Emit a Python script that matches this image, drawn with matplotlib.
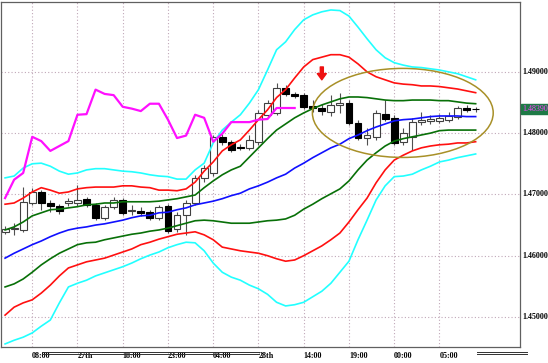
import matplotlib
matplotlib.use("Agg")
import matplotlib.pyplot as plt
from matplotlib.patches import Ellipse, Rectangle
from matplotlib.lines import Line2D

# hourly candles, oldest first
opens = [1.4639, 1.4644, 1.4642, 1.4686, 1.4704, 1.4686, 1.4681, 1.4686, 1.4686, 1.4693,
         1.4683, 1.4662, 1.4680, 1.4691, 1.4673, 1.4673, 1.4671, 1.4662, 1.4681, 1.4644,
         1.4666, 1.4686, 1.4727, 1.4735, 1.4794, 1.4786, 1.4778, 1.4776, 1.4786, 1.4830,
         1.4833, 1.4874, 1.4864, 1.4862, 1.4844, 1.4841, 1.4835, 1.4846, 1.4849, 1.4817,
         1.4792, 1.4794, 1.4831, 1.4825, 1.4786, 1.4794, 1.4818, 1.4820, 1.4820, 1.4822,
         1.4827, 1.4841, 1.4840]
closes = [1.4644, 1.4645, 1.4688, 1.4704, 1.4686, 1.4681, 1.4673, 1.4689, 1.4691, 1.4683,
          1.4662, 1.4680, 1.4691, 1.4670, 1.4675, 1.4670, 1.4662, 1.4680, 1.4640, 1.4666,
          1.4686, 1.4727, 1.4743, 1.4794, 1.4786, 1.4773, 1.4776, 1.4789, 1.4833, 1.4849,
          1.4874, 1.4864, 1.4861, 1.4843, 1.4841, 1.4836, 1.4846, 1.4849, 1.4817, 1.4792,
          1.4797, 1.4833, 1.4823, 1.4784, 1.4800, 1.4818, 1.4822, 1.4823, 1.4825, 1.4828,
          1.4841, 1.4838, 1.4839]
highs = [1.4649, 1.4653, 1.4712, 1.4711, 1.4707, 1.4691, 1.4684, 1.4694, 1.4716, 1.4696,
         1.4686, 1.4683, 1.4696, 1.4694, 1.4683, 1.4680, 1.4675, 1.4683, 1.4684, 1.4671,
         1.4691, 1.4732, 1.4748, 1.4797, 1.4799, 1.4789, 1.4782, 1.4797, 1.4838, 1.4854,
         1.4882, 1.4879, 1.4867, 1.4866, 1.4854, 1.4848, 1.4862, 1.4866, 1.4854, 1.4822,
         1.4809, 1.4838, 1.4854, 1.4830, 1.4809, 1.4825, 1.4835, 1.4830, 1.4831, 1.4835,
         1.4844, 1.4846, 1.4843]
lows = [1.4635, 1.4634, 1.4639, 1.4683, 1.4675, 1.4671, 1.4668, 1.4681, 1.4681, 1.4680,
        1.4658, 1.4658, 1.4676, 1.4666, 1.4666, 1.4665, 1.4658, 1.4658, 1.4637, 1.4639,
        1.4634, 1.4683, 1.4720, 1.4730, 1.4781, 1.4769, 1.4773, 1.4773, 1.4781, 1.4825,
        1.4830, 1.4861, 1.4858, 1.4840, 1.4835, 1.4830, 1.4828, 1.4833, 1.4813, 1.4789,
        1.4781, 1.4789, 1.4820, 1.4781, 1.4781, 1.4773, 1.4813, 1.4815, 1.4817, 1.4818,
        1.4823, 1.4835, 1.4835]

# bollinger style bands
ma = [1.4596, 1.4604, 1.4611, 1.4618, 1.4624, 1.4631, 1.4637, 1.4642, 1.4645, 1.4647,
      1.4650, 1.4652, 1.4655, 1.4658, 1.4662, 1.4665, 1.4666, 1.4670, 1.4671, 1.4675,
      1.4678, 1.4683, 1.4686, 1.4689, 1.4693, 1.4698, 1.4702, 1.4709, 1.4714, 1.4720,
      1.4727, 1.4733, 1.4743, 1.4751, 1.4760, 1.4768, 1.4776, 1.4782, 1.4791, 1.4797,
      1.4804, 1.4810, 1.4815, 1.4820, 1.4822, 1.4823, 1.4825, 1.4827, 1.4828, 1.4828,
      1.4828, 1.4827, 1.4827]
up1 = [1.4642, 1.4647, 1.4655, 1.4665, 1.4670, 1.4675, 1.4676, 1.4678, 1.4680, 1.4683,
       1.4684, 1.4686, 1.4686, 1.4688, 1.4688, 1.4688, 1.4688, 1.4689, 1.4691, 1.4693,
       1.4696, 1.4699, 1.4711, 1.4722, 1.4732, 1.4740, 1.4746, 1.4761, 1.4776, 1.4791,
       1.4805, 1.4815, 1.4825, 1.4833, 1.4840, 1.4846, 1.4851, 1.4856, 1.4859, 1.4859,
       1.4858, 1.4856, 1.4854, 1.4853, 1.4853, 1.4854, 1.4854, 1.4854, 1.4853, 1.4853,
       1.4851, 1.4849, 1.4848]
dn1 = [1.4549, 1.4554, 1.4562, 1.4573, 1.4585, 1.4595, 1.4604, 1.4611, 1.4618, 1.4621,
       1.4622, 1.4626, 1.4629, 1.4632, 1.4635, 1.4637, 1.4640, 1.4642, 1.4645, 1.4649,
       1.4653, 1.4657, 1.4658, 1.4657, 1.4655, 1.4653, 1.4653, 1.4653, 1.4655, 1.4657,
       1.4658, 1.4660, 1.4666, 1.4676, 1.4684, 1.4693, 1.4701, 1.4709, 1.4722, 1.4740,
       1.4756, 1.4768, 1.4779, 1.4787, 1.4791, 1.4794, 1.4797, 1.4800, 1.4804, 1.4805,
       1.4805, 1.4805, 1.4805]
up2 = [1.4684, 1.4686, 1.4694, 1.4704, 1.4711, 1.4707, 1.4702, 1.4704, 1.4709, 1.4711,
       1.4712, 1.4712, 1.4712, 1.4714, 1.4714, 1.4712, 1.4711, 1.4707, 1.4707, 1.4706,
       1.4709, 1.4720, 1.4738, 1.4753, 1.4771, 1.4781, 1.4789, 1.4805, 1.4822, 1.4838,
       1.4858, 1.4871, 1.4890, 1.4908, 1.4920, 1.4924, 1.4928, 1.4928, 1.4924, 1.4913,
       1.4900, 1.4892, 1.4887, 1.4882, 1.4880, 1.4879, 1.4877, 1.4877, 1.4876, 1.4874,
       1.4872, 1.4869, 1.4866]
dn2 = [1.4503, 1.4516, 1.4523, 1.4528, 1.4539, 1.4552, 1.4567, 1.4580, 1.4585, 1.4590,
       1.4593, 1.4596, 1.4601, 1.4606, 1.4611, 1.4618, 1.4622, 1.4627, 1.4631, 1.4635,
       1.4637, 1.4639, 1.4634, 1.4626, 1.4614, 1.4611, 1.4608, 1.4606, 1.4604, 1.4600,
       1.4595, 1.4591, 1.4593, 1.4600, 1.4608, 1.4616, 1.4626, 1.4637, 1.4655, 1.4675,
       1.4694, 1.4719, 1.4740, 1.4756, 1.4764, 1.4771, 1.4776, 1.4779, 1.4781, 1.4782,
       1.4784, 1.4784, 1.4786]
up3 = [1.4727, 1.4730, 1.4743, 1.4750, 1.4751, 1.4746, 1.4738, 1.4733, 1.4735, 1.4740,
       1.4742, 1.4742, 1.4740, 1.4738, 1.4737, 1.4735, 1.4732, 1.4730, 1.4729, 1.4725,
       1.4725, 1.4740, 1.4751, 1.4784, 1.4805, 1.4818, 1.4830, 1.4849, 1.4871, 1.4903,
       1.4936, 1.4949, 1.4969, 1.4985, 1.4993, 1.4998, 1.5001, 1.5000, 1.4991, 1.4973,
       1.4954, 1.4936, 1.4923, 1.4915, 1.4911, 1.4908, 1.4907, 1.4905, 1.4903, 1.4900,
       1.4897, 1.4892, 1.4887]
dn3 = [1.4456, 1.4462, 1.4467, 1.4474, 1.4485, 1.4495, 1.4523, 1.4549, 1.4555, 1.4560,
       1.4567, 1.4572, 1.4577, 1.4582, 1.4588, 1.4595, 1.4601, 1.4606, 1.4613, 1.4618,
       1.4622, 1.4621, 1.4608, 1.4588, 1.4573, 1.4565, 1.4560, 1.4552, 1.4546, 1.4537,
       1.4524, 1.4518, 1.4520, 1.4524, 1.4533, 1.4542, 1.4555, 1.4573, 1.4591, 1.4626,
       1.4658, 1.4691, 1.4714, 1.4729, 1.4730, 1.4733, 1.4740, 1.4746, 1.4753, 1.4756,
       1.4760, 1.4763, 1.4766]

# lagging span (magenta), only the first 33 bars
lag = [1.4694, 1.4724, 1.4735, 1.4794, 1.4787, 1.4771, 1.4779, 1.4787, 1.4830, 1.4831,
       1.4871, 1.4864, 1.4862, 1.4843, 1.4840, 1.4836, 1.4848, 1.4848, 1.4822, 1.4792,
       1.4796, 1.4830, 1.4825, 1.4786, 1.4799, 1.4818, 1.4818, 1.4818, 1.4822, 1.4823,
       1.4841, 1.4841, 1.4841]

time_ticks = [3, 8, 13, 18, 23, 28, 33, 38, 43, 48]
time_labels = ["08:00", "27th", "18:00", "23:00", "04:00", "28th", "14:00", "19:00", "00:00", "05:00"]
price_ticks = [1.45, 1.46, 1.47, 1.48, 1.49]
last_price = "1.48390"

W, H = 548, 363
fig = plt.figure(figsize=(W / 100, H / 100), dpi=100)
ax = fig.add_axes([1 / W, 16 / H, 519 / W, 345 / H])
ax.set_xlim(-0.45, 56.9)
ax.set_ylim(1.4451, 1.5014)

for t in time_ticks:
    ax.axvline(t, color="#c0a8b8", lw=0.8, ls=(0, (1, 2)), zorder=0)
for p in price_ticks:
    ax.axhline(p, color="#c0a8b8", lw=0.8, ls=(0, (1, 2)), zorder=0)

n = len(opens)
xs = list(range(n))
ax.vlines(xs, lows, highs, color="#505050", lw=0.8, zorder=2)
for i in xs:
    o, c = opens[i], closes[i]
    bottom = min(o, c)
    h = max(abs(c - o), 0.00003)
    face = "white" if c >= o else "black"
    ax.add_patch(Rectangle((i - 0.38, bottom), 0.76, h, facecolor=face,
                           edgecolor="#404040" if c >= o else "black", lw=0.8, zorder=2))

ax.plot(xs, dn3, color="#22ffff", lw=1.2, zorder=3)
ax.plot(xs, up3, color="#22ffff", lw=1.2, zorder=3)
ax.plot(xs, dn2, color="#ff1010", lw=1.2, zorder=3)
ax.plot(xs, up2, color="#ff1010", lw=1.2, zorder=3)
ax.plot(xs, dn1, color="#087008", lw=1.2, zorder=3)
ax.plot(xs, up1, color="#087008", lw=1.2, zorder=3)
ax.plot(xs, ma, color="#1010ff", lw=1.2, zorder=3)
ax.plot(range(len(lag)), lag, color="#ff10ff", lw=1.6, zorder=3)

ax.add_patch(Ellipse((43.95, 1.4833), 19.98, 0.01453, fill=False,
                     edgecolor="#a89028", lw=1.1, zorder=4))
ax.annotate("", xy=(35, 1.4887), xytext=(35, 1.4908),
            arrowprops=dict(facecolor="#ee1111", edgecolor="#ee1111",
                            width=2.2, headwidth=6.5, headlength=4.5), zorder=5)

ax.set_xticks([])
ax.set_yticks([])
for s in ax.spines.values():
    s.set_color("#606060")
    s.set_linewidth(0.9)

lab = dict(family="Liberation Serif", fontsize=5.8, color="black", weight="bold")
for t, txt in zip(time_ticks, time_labels):
    ax.text(t, -0.025, txt, transform=ax.get_xaxis_transform(),
            ha="left", va="center", **lab)
for p in price_ticks:
    ax.text(1.004, p, "%.5f" % p, transform=ax.get_yaxis_transform(),
            ha="left", va="center", **lab)
ax.text(1.004, 1.4839, last_price, transform=ax.get_yaxis_transform(),
        ha="left", va="center", family="Liberation Serif", fontsize=5.8,
        color="#ff40ff", bbox=dict(boxstyle="square,pad=0.15",
                                   facecolor="#1e7a46", edgecolor="#1e7a46"))

# double scroll lines under the time axis
for yy in (351.5, 353.5):
    fig.add_artist(Line2D([42 / W, 259 / W], [1 - yy / H, 1 - yy / H],
                          color="#303030", lw=0.7))
    fig.add_artist(Line2D([477 / W, 527 / W], [1 - yy / H, 1 - yy / H],
                          color="#303030", lw=0.7))

fig.savefig("out.png", dpi=100)
